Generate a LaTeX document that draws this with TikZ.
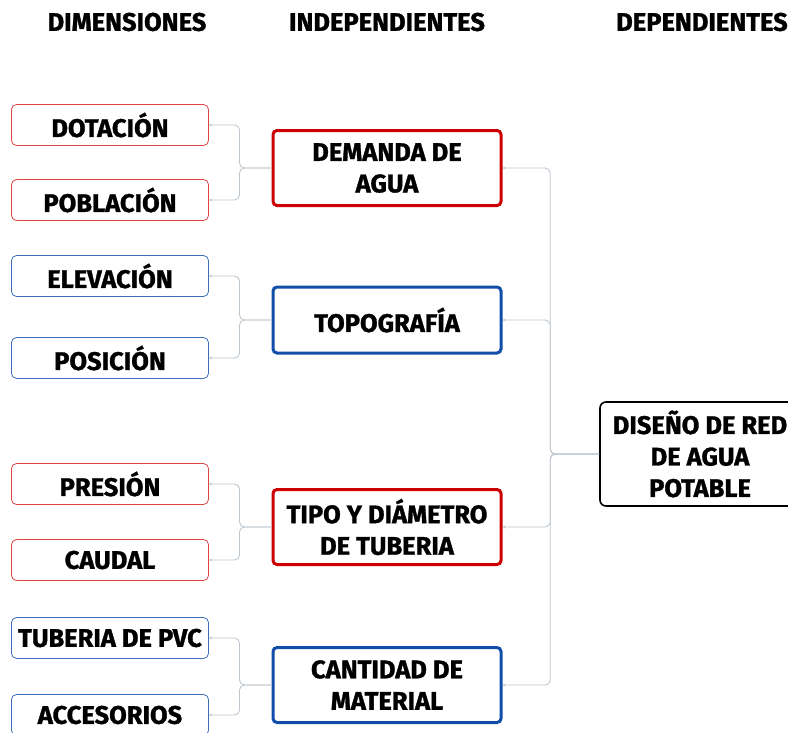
\documentclass[tikz,border=0pt]{standalone}
\usepackage{fontspec}
\setmainfont{Fira Sans}[BoldFeatures={FakeBold=1.2}]
\usepackage{tikz}
\usetikzlibrary{arrows.meta,positioning}

\definecolor{rojo}{RGB}{204,0,0}
\definecolor{rojoclaro}{RGB}{222,70,70}
\definecolor{azul}{RGB}{16,78,170}
\definecolor{azulclaro}{RGB}{60,110,185}
\definecolor{gris}{RGB}{190,198,206}

\begin{document}
\begin{tikzpicture}[
  x=1pt, y=-1pt,
  font=\bfseries\fontsize{25.5}{31.5}\selectfont,
  dimbox/.style={draw, rounded corners=5pt, line width=0.8pt, align=center,
                 minimum width=197pt, minimum height=41pt, inner sep=1pt},
  indbox/.style={draw, rounded corners=4pt, line width=3pt, align=center,
                 minimum width=228pt, minimum height=75pt, inner sep=1pt},
  depbox/.style={draw=black, rounded corners=6pt, line width=1.6pt, align=center,
                 minimum width=200pt, minimum height=104pt, inner sep=1pt},
  conn/.style={draw=gris, line width=0.9pt, rounded corners=5pt,
               -{Stealth[length=3pt,width=3pt]}},
]
\useasboundingbox (0,0) rectangle (788,732);
\clip (0,0) rectangle (788,732);

% --- headers ---
\node (hdim) at (127,22) {DIMENSIONES};
\node (hind) at (387,22) {INDEPENDIENTES};
\node (hdep) at (702,22) {DEPENDIENTES};

% --- dimensions ---
\node[dimbox, draw=rojoclaro] (dotacion)  at (110,125) {DOTACIÓN};
\node[dimbox, draw=rojoclaro] (poblacion) at (110,200) {POBLACIÓN};
\node[dimbox, draw=azulclaro] (elevacion) at (110,276) {ELEVACIÓN};
\node[dimbox, draw=azulclaro] (posicion)  at (110,358) {POSICIÓN};
\node[dimbox, draw=rojoclaro] (presion)   at (110,484) {PRESIÓN};
\node[dimbox, draw=rojoclaro] (caudal)    at (110,560) {CAUDAL};
\node[dimbox, draw=azulclaro] (pvc)       at (110,638) {TUBERIA DE PVC};
\node[dimbox, draw=azulclaro] (accesorios) at (110,715) {ACCESORIOS};

% --- independents ---
\node[indbox, draw=rojo] (demanda)  at (387,168) {DEMANDA DE\\AGUA};
\node[indbox, draw=azul, minimum height=66pt] (topografia) at (387,320) {TOPOGRAFÍA};
\node[indbox, draw=rojo] (tipo)     at (387,527) {TIPO Y DIÁMETRO\\DE TUBERIA};
\node[indbox, draw=azul] (cantidad) at (387,685) {CANTIDAD DE\\MATERIAL};

% --- dependent ---
\node[depbox] (diseno) at (700,454) {DISEÑO DE RED\\DE AGUA\\POTABLE};

% --- connectors ---
\foreach \p/\a/\b in {demanda/dotacion/poblacion, topografia/elevacion/posicion,
                      tipo/presion/caudal, cantidad/pvc/accesorios} {
  \draw[conn] (\p.west) -- ++(-32,0) |- (\a.east);
  \draw[conn] (\p.west) -- ++(-32,0) |- (\b.east);
}
\foreach \c in {demanda,topografia,tipo,cantidad} {
  \draw[conn] (diseno.west) -- ++(-49,0) |- (\c.east);
}

\end{tikzpicture}
\end{document}
